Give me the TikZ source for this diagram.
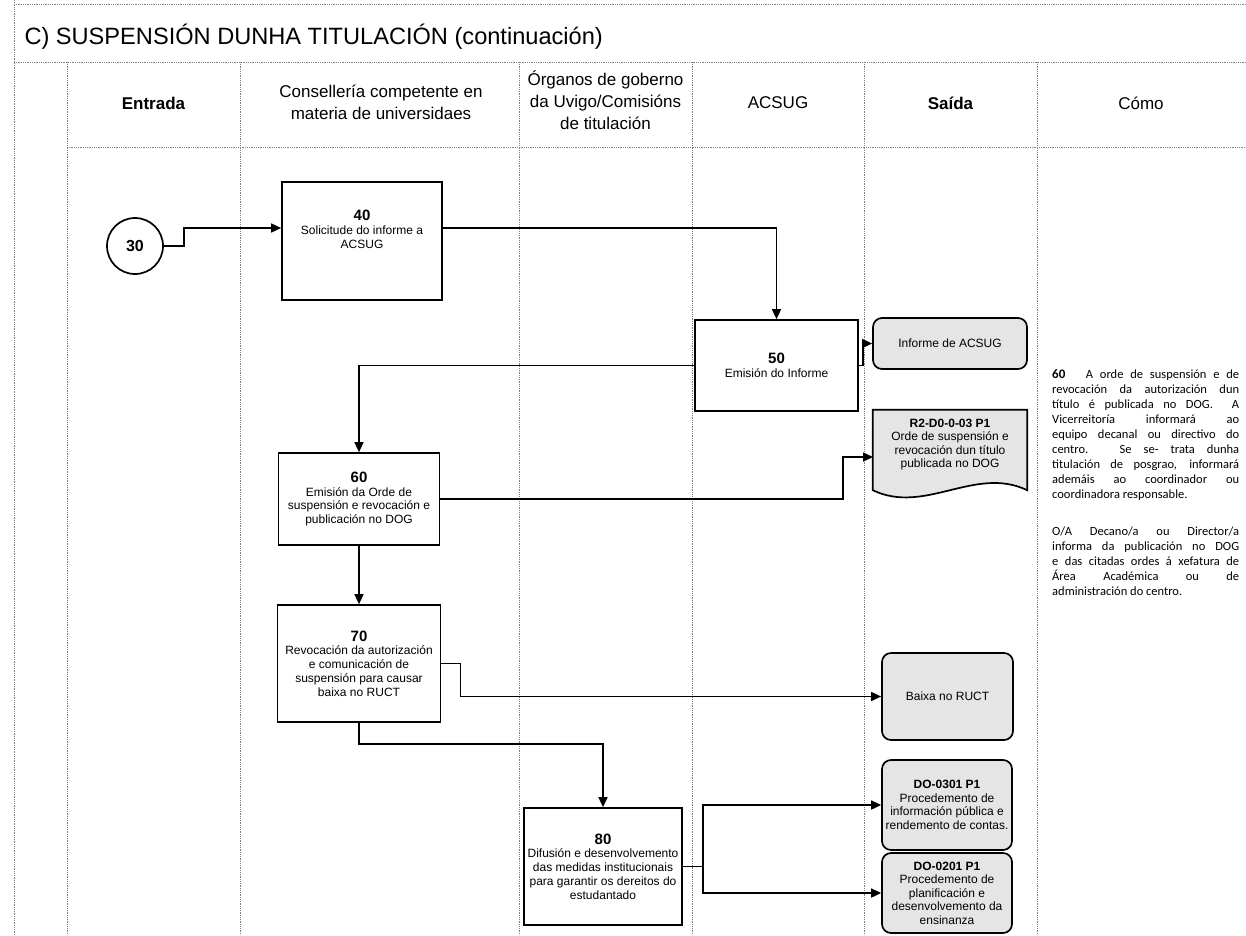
\documentclass[tikz,border=0pt]{standalone}
\usepackage{fontspec}
\setmainfont{Liberation Sans}
\newfontfamily\calib{Carlito}
\usetikzlibrary{arrows.meta,calc,backgrounds}
\begin{document}
\begin{tikzpicture}[x=1pt,y=-1pt,
  grid/.style={black!50, densely dotted, line width=0.8pt},
  arr/.style={line width=1.6pt, -{Triangle[length=10pt,width=9pt]}},
  proc/.style={draw, line width=1.7pt, fill=white, align=center, font=\fontsize{12}{13.7}\selectfont, inner sep=2pt},
  outbox/.style={draw, line width=1.7pt, rounded corners=9pt, fill=black!10, align=center, font=\fontsize{12}{13.5}\selectfont, inner sep=2pt},
  hdr/.style={align=center, font=\fontsize{17}{22}\selectfont},
]
\useasboundingbox (0,0) rectangle (1246,935);
% grid
\draw[grid] (14,0) -- (14,935);
\foreach \x in {67,240,519,692,864,1037} \draw[grid] (\x,62) -- (\x,935);
\draw[grid] (14,4) -- (1246,4);
\draw[grid] (14,62) -- (1246,62);
\draw[grid] (67,147) -- (1246,147);
% title and headers
\node[anchor=west, font=\fontsize{23.6}{26}\selectfont] (title) at (21,37) {C) SUSPENSIÓN DUNHA TITULACIÓN (continuación)};
\node[hdr, font=\fontsize{17}{22}\selectfont\bfseries] (h1) at (153.5,103) {Entrada};
\node[hdr] (h2) at (381,102) {Consellería competente en\\materia de universidaes};
\node[hdr] (h3) at (605.5,100) {Órganos de goberno\\da Uvigo/Comisións\\de titulación};
\node[hdr] (h4) at (778,103) {ACSUG};
\node[hdr, font=\fontsize{17}{22}\selectfont\bfseries] (h5) at (950.5,103) {Saída};
\node[hdr] (h6) at (1141,103) {Cómo};
% process nodes
\node[draw, circle, line width=1.7pt, minimum size=56pt, inner sep=0pt, font=\fontsize{16}{17}\selectfont\bfseries] (c30) at (135,246) {30};
\node[proc, minimum width=160pt, minimum height=118pt] (n40) at (362,241) {{\fontsize{15}{16}\selectfont\bfseries 40}\\Solicitude do informe a\\ACSUG\\[10pt]\mbox{}};
\node[proc, minimum width=163pt, minimum height=91pt] (n50) at (776.5,365.5) {{\fontsize{15}{16}\selectfont\bfseries 50}\\Emisión do Informe};
\node[proc, minimum width=161pt, minimum height=92pt] (n60) at (359,499) {{\fontsize{15}{16}\selectfont\bfseries 60}\\Emisión da Orde de\\suspensión e revocación e\\publicación no DOG};
\node[proc, minimum width=163pt, minimum height=117pt] (n70) at (359,663.5) {{\fontsize{15}{16}\selectfont\bfseries 70}\\Revocación da autorización\\e comunicación de\\suspensión para causar\\baixa no RUCT};
\node[proc, minimum width=158pt, minimum height=117pt] (n80) at (603,866.5) {{\fontsize{15}{16}\selectfont\bfseries 80}\\Difusión e desenvolvemento\\das medidas institucionais\\para garantir os dereitos do\\estudantado};
% outputs
\node[outbox, minimum width=154pt, minimum height=51pt] (o1) at (950,343.5) {Informe de ACSUG};
\node[align=center, font=\fontsize{12}{13.5}\selectfont, minimum width=154pt, minimum height=80pt, inner sep=2pt] (o2) at (950,450) {\textbf{R2-D0-0-03 P1}\\Orde de suspensión e\\revocación dun título\\publicada no DOG\\[0pt]\mbox{}};
\begin{scope}[on background layer]
\draw[line width=1.7pt, fill=black!10] (o2.north west) -- (o2.north east) -- (o2.south east)
  .. controls ($(o2.south east)+(-52,-25)$) and ($(o2.south west)+(52,25)$) .. (o2.south west) -- cycle;
\end{scope}
\node[outbox, minimum width=131pt, minimum height=87pt] (o3) at (947.5,696.5) {Baixa no RUCT};
\node[outbox, minimum width=130pt, minimum height=90pt] (o4) at (947,805) {\textbf{DO-0301 P1}\\Procedemento de\\información pública e\\rendemento de contas.};
\node[outbox, minimum width=130pt, minimum height=80pt] (o5) at (947,893) {\textbf{DO-0201 P1}\\Procedemento de\\planificación e\\desenvolvemento da\\ensinanza};
% connectors
\coordinate (o2in) at (873,457);
\draw[arr] (c30.east) -- ++(20,0) |- ([yshift=13pt]n40.west);
\draw[arr] ([yshift=13pt]n40.east) -| (n50.north);
\draw[arr] (n50.east) -- ++(4,0) |- (o1.west);
\draw[arr] (n50.west) -| (n60.north);
\draw[arr] (n60.east) -| ([xshift=-30pt]o2in) -- (o2in);
\draw[arr] (n60.south) -- (n70.north);
\draw[arr] (n70.east) -- ++(19,0) |- (o3.west);
\draw[arr] (n70.south) -- ++(0,21) -| (n80.north);
\draw[arr] (n80.east) -- ++(20,0) |- (o4.west);
\draw[arr] (n80.east) -- ++(20,0) |- (o5.west);
% como text
\node[anchor=north west, inner sep=0pt, align=left, font=\calib\fontsize{12.5}{15}\selectfont] (como) at (1052,369) {%
\makebox[187pt][s]{{\fontsize{13}{15}\selectfont\bfseries 60}\ \ \ A orde de suspensión e de}\\
\makebox[187pt][s]{revocación da autorización dun}\\
\makebox[187pt][s]{título é publicada no DOG. \ A}\\
\makebox[187pt][s]{Vicerreitoría informará ao}\\
\makebox[187pt][s]{equipo decanal ou directivo do}\\
\makebox[187pt][s]{centro. Se se- trata dunha}\\
\makebox[187pt][s]{titulación de posgrao, informará}\\
\makebox[187pt][s]{ademáis ao coordinador ou}\\
coordinadora responsable.\\[22pt]
\makebox[187pt][s]{O/A Decano/a ou Director/a}\\
\makebox[187pt][s]{informa da publicación no DOG}\\
\makebox[187pt][s]{e das citadas ordes á xefatura de}\\
\makebox[187pt][s]{Área Académica ou de}\\
administración do centro.};
\end{tikzpicture}
\end{document}
